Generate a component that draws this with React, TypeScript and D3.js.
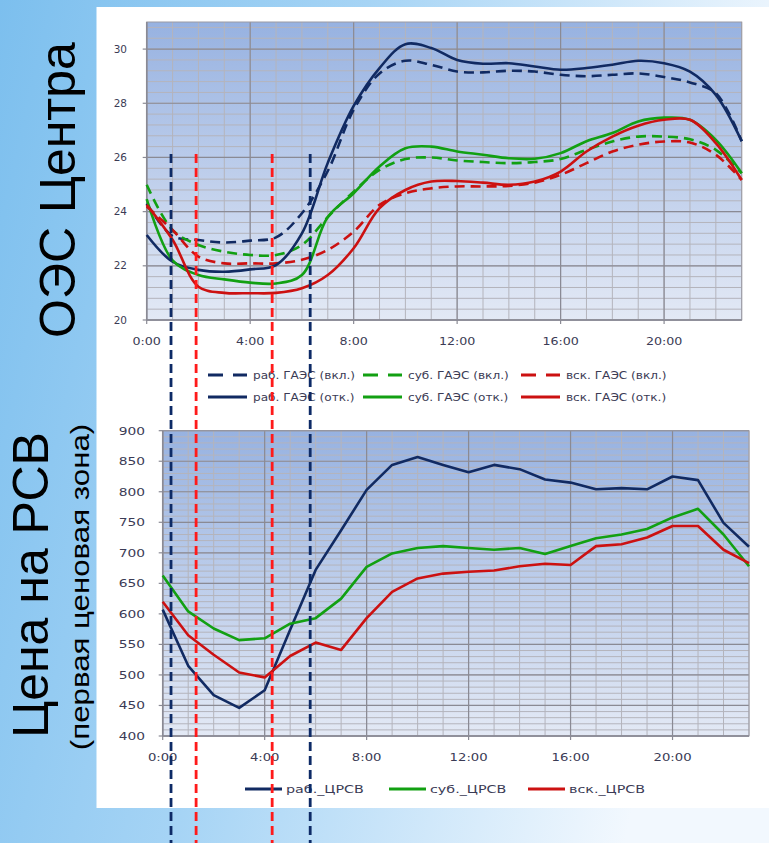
import React from "react";
import * as d3 from "d3";

// ---------- DATA ----------
const hours = d3.range(0, 24);

// Top chart: ОЭС Центра (smoothed lines)
const rabOn = [24.3, 23.1, 22.95, 22.86, 22.93, 23.05, 23.94, 25.5, 27.76, 29.1, 29.57, 29.42, 29.17, 29.14, 29.2, 29.17, 29.05, 29.0, 29.05, 29.1, 28.97, 28.77, 28.37, 26.6];
const subOn = [24.99, 23.32, 22.77, 22.52, 22.4, 22.4, 22.77, 23.8, 24.74, 25.54, 25.94, 26.0, 25.89, 25.83, 25.79, 25.83, 25.94, 26.28, 26.59, 26.77, 26.77, 26.67, 26.28, 25.42];
const vskOn = [24.19, 23.32, 22.34, 22.09, 22.09, 22.09, 22.22, 22.59, 23.26, 24.25, 24.68, 24.86, 24.93, 24.93, 24.95, 25.07, 25.36, 25.79, 26.22, 26.47, 26.59, 26.55, 26.1, 25.17];
const rabOff = [23.14, 22.15, 21.85, 21.78, 21.87, 22.03, 23.2, 25.8, 27.9, 29.3, 30.18, 30.04, 29.6, 29.46, 29.48, 29.36, 29.24, 29.3, 29.42, 29.57, 29.48, 29.17, 28.31, 26.6];
const subOff = [24.46, 22.2, 21.66, 21.5, 21.38, 21.35, 21.66, 23.8, 24.68, 25.67, 26.34, 26.4, 26.22, 26.1, 25.97, 25.95, 26.16, 26.6, 26.9, 27.33, 27.47, 27.39, 26.65, 25.42];
const vskOff = [24.25, 22.96, 21.23, 21.0, 20.99, 21.0, 21.17, 21.66, 22.65, 24.13, 24.8, 25.11, 25.13, 25.07, 24.99, 25.11, 25.48, 26.22, 26.77, 27.17, 27.39, 27.39, 26.53, 25.17];

const topSeriesNames = ["раб. ГАЭС (вкл.)", "суб. ГАЭС (вкл.)", "вск. ГАЭС (вкл.)", "раб. ГАЭС (отк.)", "суб. ГАЭС (отк.)", "вск. ГАЭС (отк.)"];
const topSeriesValues = [rabOn, subOn, vskOn, rabOff, subOff, vskOff];
const topSeriesColors = ["#112a62", "#12a012", "#cc1111", "#112a62", "#12a012", "#cc1111"];
const topSeriesDashed = [true, true, true, false, false, false];

// Bottom chart: Цена на РСВ
const rabPrice = [607, 515, 467, 446, 475, 574, 672, 737, 803, 844, 857, 844, 832, 844, 837, 820, 815, 804, 806, 804, 825, 819, 749, 710];
const subPrice = [663, 604, 576, 557, 560, 584, 593, 625, 677, 699, 708, 711, 708, 705, 708, 698, 711, 724, 730, 739, 758, 772, 730, 678];
const vskPrice = [620, 565, 533, 504, 496, 531, 553, 541, 593, 636, 658, 666, 669, 671, 678, 682, 680, 711, 714, 725, 744, 744, 705, 683];
const botSeriesNames = ["раб._ЦРСВ", "суб._ЦРСВ", "вск._ЦРСВ"];
const botSeriesValues = [rabPrice, subPrice, vskPrice];
const botSeriesColors = ["#112a62", "#12a012", "#cc1111"];

const topYTicks = [20, 22, 24, 26, 28, 30];
const botYTicks = [400, 450, 500, 550, 600, 650, 700, 750, 800, 850, 900];
const xTickHours = [0, 4, 8, 12, 16, 20];
const xTickLabels = ["0:00", "4:00", "8:00", "12:00", "16:00", "20:00"];

// Annotation markers (hours on the top chart's time axis)
const markerHours = [0.94, 1.91, 4.85, 6.32];
const markerColors = ["#0d2a66", "#ff1a1a", "#ff1a1a", "#0d2a66"];

// ---------- LAYOUT ----------
const W = 769, H = 843;
const xTop = d3.scaleLinear().domain([0, 23]).range([146.7, 741.7]);
const yTop = d3.scaleLinear().domain([20, 31]).range([320, 22]);
const xBot = d3.scaleLinear().domain([0, 23]).range([162.7, 749]);
const yBot = d3.scaleLinear().domain([400, 900]).range([736, 430.7]);

const lbl = "#3b3b55";

function Label({ x, y, anchor, size, sx, children }: any) {
  return (
    <text transform={`translate(${x},${y}) scale(${sx},1)`} textAnchor={anchor} fontSize={size} fontFamily="DejaVu Sans, Verdana, sans-serif" fill={lbl}>
      {children}
    </text>
  );
}

function Grid({ x, y, yMinor, yMajor, id }: any) {
  const [x0, x1] = x.range();
  const [y0, y1] = y.range();
  const hMinor = d3.range(y.domain()[0], y.domain()[1] + 1e-6, yMinor);
  const hMajor = d3.range(y.domain()[0], y.domain()[1] + 1e-6, yMajor);
  const vMinor = d3.range(0, 24, 1);
  const vMajor = d3.range(0, 24, 4);
  return (
    <g>
      <rect x={x0} y={y1} width={x1 - x0} height={y0 - y1} fill={`url(#${id})`} />
      {hMinor.map((v: number, i: number) => (
        <line key={"hm" + i} x1={x0} x2={x1} y1={y(v)} y2={y(v)} stroke="#b4b4bc" strokeWidth={1} />
      ))}
      {vMinor.map((v: number, i: number) => (
        <line key={"vm" + i} x1={x(v)} x2={x(v)} y1={y0} y2={y1} stroke="#b4b4bc" strokeWidth={1} />
      ))}
      {hMajor.map((v: number, i: number) => (
        <line key={"hM" + i} x1={x0} x2={x1} y1={y(v)} y2={y(v)} stroke="#8a8a94" strokeWidth={1.2} />
      ))}
      {vMajor.map((v: number, i: number) => (
        <line key={"vM" + i} x1={x(v)} x2={x(v)} y1={y0} y2={y1} stroke="#8a8a94" strokeWidth={1.2} />
      ))}
      <rect x={x0} y={y1} width={x1 - x0} height={y0 - y1} fill="none" stroke="#9a9aa4" strokeWidth={1} />
      <line x1={x0} x2={x1} y1={y0} y2={y0} stroke="#8a8a94" strokeWidth={1.5} />
      <line x1={x0} x2={x0} y1={y0} y2={y1} stroke="#8a8a94" strokeWidth={1.5} />
      {vMajor.map((v: number, i: number) => (
        <line key={"tx" + i} x1={x(v)} x2={x(v)} y1={y0} y2={y0 + 4} stroke="#8a8a94" strokeWidth={1.2} />
      ))}
      {hMajor.map((v: number, i: number) => (
        <line key={"ty" + i} x1={x0 - 4} x2={x0} y1={y(v)} y2={y(v)} stroke="#8a8a94" strokeWidth={1.2} />
      ))}
    </g>
  );
}

export default function App() {
  const topLine = (vals: number[]) =>
    d3.line<number>().x((_, i) => xTop(hours[i])).y((d) => yTop(d)).curve(d3.curveCatmullRom.alpha(0.5))(vals) || "";
  const botLine = (vals: number[]) =>
    d3.line<number>().x((_, i) => xBot(hours[i])).y((d) => yBot(d))(vals) || "";

  const topLegendX = [208, 363, 521];
  const topLegendY = [375, 397];
  const botLegendX = [245, 389, 528];

  return (
    <svg width={W} height={H} style={{ position: "absolute", left: 0, top: 0 }}>
      <defs>
        <linearGradient id="bg" x1="0" y1="0" x2="1" y2="0.25">
          <stop offset="0" stopColor="#7cbfee" />
          <stop offset="0.45" stopColor="#a6d4f5" />
          <stop offset="1" stopColor="#f2f8fe" />
        </linearGradient>
        <linearGradient id="plotTop" x1="0" y1="0" x2="0" y2="1">
          <stop offset="0" stopColor="#97b2e1" />
          <stop offset="1" stopColor="#e3e9f5" />
        </linearGradient>
        <linearGradient id="plotBot" x1="0" y1="0" x2="0" y2="1">
          <stop offset="0" stopColor="#97b2e1" />
          <stop offset="1" stopColor="#e3e9f5" />
        </linearGradient>
      </defs>
      <rect x={0} y={0} width={W} height={H} fill="url(#bg)" />
      <rect x={96.5} y={7} width={W - 96.5} height={801} fill="#ffffff" />

      {/* Left titles */}
      <text transform="translate(75,190) rotate(-90)" textAnchor="middle" fontSize={50} fontFamily="Liberation Sans, Arial, sans-serif" fill="#000">
        ОЭС Центра
      </text>
      <text transform="translate(48,585) rotate(-90)" textAnchor="middle" fontSize={50} fontFamily="Liberation Sans, Arial, sans-serif" fill="#000">
        Цена на РСВ
      </text>
      <text transform="translate(88.5,587) rotate(-90) scale(1.25,1)" textAnchor="middle" fontSize={25} fontFamily="Liberation Sans, Arial, sans-serif" fill="#000">
        (первая ценовая зона)
      </text>

      {/* Top chart */}
      <Grid x={xTop} y={yTop} yMinor={0.4} yMajor={2} id="plotTop" />
      {topYTicks.map((v) => (
        <Label key={"tyl" + v} x={127} y={yTop(v) + 3.5} anchor="end" size={10} sx={1.05}>{v}</Label>
      ))}
      {xTickHours.map((h, i) => (
        <Label key={"txl" + h} x={xTop(h)} y={345} anchor="middle" size={11} sx={1.15}>{xTickLabels[i]}</Label>
      ))}
      {topSeriesValues.map((vals, i) => (
        <path key={"ts" + i} d={topLine(vals)} fill="none" stroke={topSeriesColors[i]} strokeWidth={2.6}
          strokeDasharray={topSeriesDashed[i] ? "10,6" : undefined} strokeLinejoin="round" />
      ))}
      {topSeriesNames.map((name, i) => {
        const col = i % 3, row = Math.floor(i / 3);
        const lx = topLegendX[col], ly = topLegendY[row];
        return (
          <g key={"tl" + i}>
            <line x1={lx} x2={lx + 39} y1={ly} y2={ly} stroke={topSeriesColors[i]} strokeWidth={3}
              strokeDasharray={topSeriesDashed[i] ? "15,10" : undefined} />
            <Label x={lx + 45} y={ly + 4} anchor="start" size={11} sx={1.1}>{name}</Label>
          </g>
        );
      })}

      {/* Bottom chart */}
      <Grid x={xBot} y={yBot} yMinor={10} yMajor={50} id="plotBot" />
      {botYTicks.map((v) => (
        <Label key={"byl" + v} x={145} y={yBot(v) + 4} anchor="end" size={11} sx={1.25}>{v}</Label>
      ))}
      {xTickHours.map((h, i) => (
        <Label key={"bxl" + h} x={xBot(h)} y={761} anchor="middle" size={11} sx={1.2}>{xTickLabels[i]}</Label>
      ))}
      {botSeriesValues.map((vals, i) => (
        <path key={"bs" + i} d={botLine(vals)} fill="none" stroke={botSeriesColors[i]} strokeWidth={2.6} strokeLinejoin="round" />
      ))}
      {botSeriesNames.map((name, i) => (
        <g key={"bl" + i}>
          <line x1={botLegendX[i]} x2={botLegendX[i] + 37} y1={789} y2={789} stroke={botSeriesColors[i]} strokeWidth={3} />
          <Label x={botLegendX[i] + 41} y={793} anchor="start" size={11} sx={1.3}>{name}</Label>
        </g>
      ))}

      {/* Vertical annotation lines */}
      {markerHours.map((h, i) => (
        <line key={"mk" + i} x1={xTop(h)} x2={xTop(h)} y1={154} y2={H} stroke={markerColors[i]} strokeWidth={2.8} strokeDasharray="9,5" />
      ))}
    </svg>
  );
}
